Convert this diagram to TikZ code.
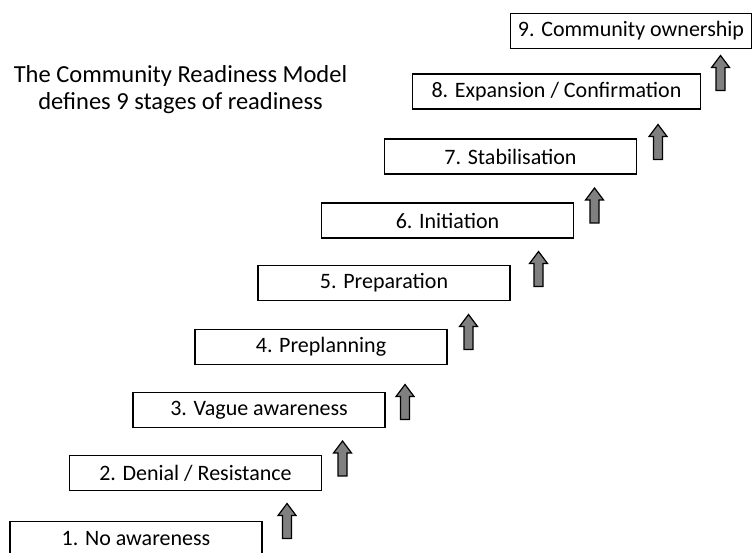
\documentclass[tikz,border=0pt]{standalone}
\usepackage{fontspec}
\setmainfont{Carlito}
\usetikzlibrary{positioning}

\begin{document}
\begin{tikzpicture}[
    x=1pt, y=-1pt,
    stage/.style={draw, line width=1.5pt, minimum height=35pt, minimum width=252pt,
                  inner sep=0pt, font=\fontsize{22}{26}\selectfont},
    title/.style={align=center, font=\fontsize{24.5}{27}\selectfont},
    stepup/.style={draw=black, fill=gray, line width=1.2pt},
]
\useasboundingbox (0,0) rectangle (756,553);

\node[title] (model) at (180.5,90) {The Community Readiness Model\\defines 9 stages of readiness};

\node[stage] (noaware)  at (136,539)   {1. No awareness};
\node[stage] (denial)   at (195.5,473) {2. Denial / Resistance};
\node[stage] (vague)    at (259,410)   {3. Vague awareness};
\node[stage] (preplan)  at (321,347)   {4. Preplanning};
\node[stage] (prep)     at (384,283)   {5. Preparation};
\node[stage] (init)     at (447.5,220.5) {6. Initiation};
\node[stage] (stab)     at (510.5,156.5) {7. Stabilisation};
\node[stage, minimum width=288pt] (expand) at (556.5,91.5) {8. Expansion / Confirmation};
\node[stage, minimum width=241pt] (owner)  at (631,31)     {9. Community ownership};

% block arrows between the steps
\foreach \n/\x/\y in {1/287/521, 2/342.5/458.5, 3/405/402, 4/468.5/332,
                      5/538.5/269, 6/594.5/205.5, 7/658/142, 8/720.5/73}{
    \coordinate (up\n) at (\x,\y);
    \filldraw[stepup, shift={(up\n)}] (-4.5,17.5) -- (-4.5,-5.5) -- (-9,-5.5) -- (0,-17.5)
        -- (9,-5.5) -- (4.5,-5.5) -- (4.5,17.5) -- cycle;
}

\end{tikzpicture}
\end{document}
